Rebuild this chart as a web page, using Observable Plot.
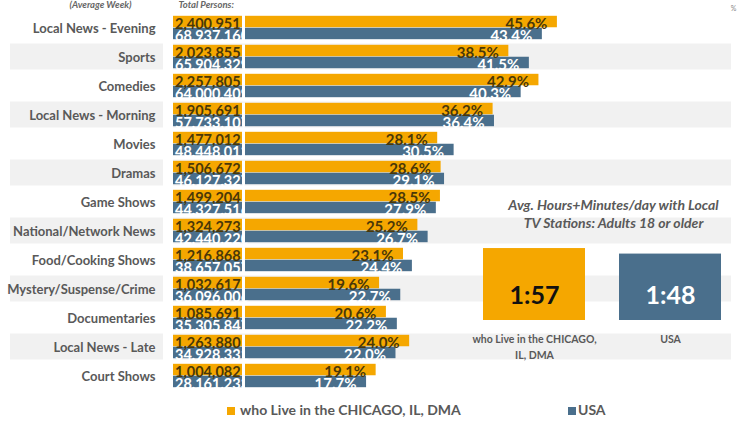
<!DOCTYPE html>
<html>
<head>
<meta charset="utf-8">
<script src="https://cdn.jsdelivr.net/npm/d3@7"></script>
<script src="https://cdn.jsdelivr.net/npm/@observablehq/plot@0.6"></script>
<style>
  html, body { margin: 0; padding: 0; background: #fff; }
  #wrap { position: relative; width: 738px; height: 423px; overflow: hidden; font-family: Lato, "Noto Sans", sans-serif; }
  #main { position: absolute; left: 0; top: 0; }
  #panel { position: absolute; left: 466px; top: 180px; }
  #legend { position: absolute; left: 0; top: 400px; width: 738px; height: 23px; }
  .sw { position: absolute; width: 8px; height: 8px; top: 7px; }
  .lt { position: absolute; top: 1px; font-size: 14px; font-weight: bold; color: #595959; white-space: nowrap; }
</style>
</head>
<body>
<div id="wrap">
  <div id="main"></div>
  <div id="panel"></div>
  <div id="legend"></div>
</div>
<script>
// ---------- data ----------
const categories = [
  "Local News - Evening", "Sports", "Comedies", "Local News - Morning", "Movies",
  "Dramas", "Game Shows", "National/Network News", "Food/Cooking Shows",
  "Mystery/Suspense/Crime", "Documentaries", "Local News - Late", "Court Shows"
];
const seriesNames = ["who Live in the CHICAGO, IL, DMA", "USA"];
const chicagoPct = [45.6, 38.5, 42.9, 36.2, 28.1, 28.6, 28.5, 25.2, 23.1, 19.6, 20.6, 24.0, 19.1];
const usaPct     = [43.4, 41.5, 40.3, 36.4, 30.5, 29.1, 27.9, 26.7, 24.4, 22.7, 22.2, 22.0, 17.7];
const chicagoCount = [2400951, 2023855, 2257805, 1905691, 1477012, 1506672, 1499204, 1324273, 1216868, 1032617, 1085691, 1263880, 1004082];
const usaCount     = [68937160, 65904329, 64000409, 57733107, 48448012, 46127327, 44327516, 42440220, 38657057, 36096006, 35305847, 34928331, 28161233];
const panelTitle = "Avg. Hours+Minutes/day with Local\nTV Stations: Adults 18 or older";
const panelLabels = ["who Live in the CHICAGO,\nIL, DMA", "USA"];
const panelMinutes = [117, 108];
const panelTimes = ["1:57", "1:48"];
const headerLeft = "(Average Week)";
const headerCount = "Total Persons:";

// ---------- style ----------
const ORANGE = "#F5A700";
const BLUE = "#4A6F8C";
const DARKTXT = "#4a3808";
const GREY = "#595959";
const STRIPE = "#f1f1f1";
const FONT = "Lato, 'Noto Sans', sans-serif";

const W = 738, H = 400;
const PX = 6.84;      // pixels per percentage point
const ORIGIN = 245;   // pixel where 0% sits
const u = p => (p - ORIGIN) / PX; // pixel -> x units (layout helper)

const rows = categories.map((cat, i) => ({
  cat, i, chiPct: chicagoPct[i], usaPct: usaPct[i],
  chiCount: chicagoCount[i], usaCount: usaCount[i]
}));
const striped = rows.filter(d => d.i % 2 === 1);
const fmt = d3.format(",");
const fmtPct = d3.format(".1f");
const half = (392.75 - 9.45) / categories.length / 2;
const edge = 2.8;

const main = Plot.plot({
  width: W, height: H,
  marginTop: 9.45, marginBottom: H - 392.75, marginLeft: 0, marginRight: 0,
  style: {fontFamily: FONT, background: "#fff"},
  x: {domain: [u(0), u(W)], axis: null},
  y: {domain: categories, padding: 0, axis: null},
  marks: [
    // row stripes
    Plot.barX(striped, {x1: u(10), x2: u(163), y: "cat", fill: STRIPE, insetTop: 1.5, insetBottom: 1.5}),
    Plot.barX(striped, {x1: u(173), x2: u(731), y: "cat", fill: STRIPE, insetTop: 1.5, insetBottom: 1.5}),
    // category labels
    Plot.text(rows, {x: u(155), y: "cat", text: "cat", textAnchor: "end", fontSize: 13, fontWeight: "bold", fill: GREY, dy: 1}),
    // count column
    Plot.barX(rows, {x1: u(173), x2: u(242), y: "cat", fill: ORANGE, insetTop: edge, insetBottom: half}),
    Plot.barX(rows, {x1: u(173), x2: u(242), y: "cat", fill: BLUE, insetTop: half, insetBottom: edge}),
    Plot.text(rows, {x: u(174.5), y: "cat", text: d => fmt(d.chiCount), textAnchor: "start", lineAnchor: "bottom", dy: 0.8, fontSize: 14.5, fontWeight: "bold", fill: DARKTXT}),
    Plot.text(rows, {x: u(174.5), y: "cat", text: d => fmt(d.usaCount), textAnchor: "start", lineAnchor: "bottom", dy: 12.6, fontSize: 14.5, fontWeight: "bold", fill: "#fff"}),
    // gap between count column and bars
    Plot.barX(rows, {x1: u(242), x2: 0, y: "cat", fill: "#fff", insetTop: edge, insetBottom: edge}),
    // percentage bars
    Plot.barX(rows, {x1: 0, x2: "chiPct", y: "cat", fill: ORANGE, insetTop: edge, insetBottom: half}),
    Plot.barX(rows, {x1: 0, x2: "usaPct", y: "cat", fill: BLUE, insetTop: half, insetBottom: edge}),
    Plot.text(rows, {x: "chiPct", y: "cat", text: d => fmtPct(d.chiPct) + "%", textAnchor: "end", lineAnchor: "bottom", dx: -10, dy: 0.8, fontSize: 15, fontWeight: "bold", fill: DARKTXT}),
    Plot.text(rows, {x: "usaPct", y: "cat", text: d => fmtPct(d.usaPct) + "%", textAnchor: "end", lineAnchor: "bottom", dx: -10, dy: 12.6, fontSize: 15, fontWeight: "bold", fill: "#fff"}),
    // header texts
    Plot.text([headerLeft], {x: u(100), frameAnchor: "top", lineAnchor: "bottom", dy: -1.5, text: d => d, fontSize: 9.5, fontStyle: "italic", fontWeight: "bold", fill: "#666"}),
    Plot.text([headerCount], {x: u(178), frameAnchor: "top", lineAnchor: "bottom", dy: -1.5, text: d => d, textAnchor: "start", fontSize: 9.5, fontStyle: "italic", fontWeight: "bold", fill: "#666"}),
    Plot.text(["%"], {x: u(733), frameAnchor: "top", lineAnchor: "bottom", dy: 1.5, text: d => d, fontSize: 7, fill: "#888"})
  ]
});
document.getElementById("main").appendChild(main);

// ---------- inset panel ----------
const panelRows = seriesNames.map((s, i) => ({s, label: panelLabels[i], min: panelMinutes[i], t: panelTimes[i], i}));
const PH = 185;
const panel = Plot.plot({
  width: 272, height: PH,
  marginTop: 0, marginBottom: 0, marginLeft: 0, marginRight: 0,
  style: {fontFamily: FONT, background: "transparent", overflow: "visible"},
  x: {domain: seriesNames, paddingInner: 0.25, paddingOuter: 0.125, axis: null},
  y: {domain: [0, 130], range: [140, 140 - 130 * 0.615], axis: null},
  marks: [
    Plot.barY(panelRows, {x: "s", y: "min", fill: d => d.i === 0 ? ORANGE : BLUE}),
    Plot.text(panelRows, {x: "s", y: 0, text: "t", lineAnchor: "bottom", dy: -17, fontSize: 25, fontWeight: "bold", fill: d => d.i === 0 ? "#111" : "#fff"}),
    Plot.text(panelRows, {x: "s", y: 0, text: "label", lineAnchor: "top", dy: 10.5, fontSize: 10.5, lineHeight: 1.55, fontWeight: "bold", fill: GREY}),
    Plot.text([panelTitle], {frameAnchor: "top", text: d => d, lineAnchor: "top", dx: 11, dy: 17, fontSize: 14, fontStyle: "italic", fontWeight: "bold", lineHeight: 1.29, fill: GREY})
  ]
});
document.getElementById("panel").appendChild(panel);

// ---------- legend ----------
const legend = document.getElementById("legend");
const legendPos = [{sw: 227, tx: 240}, {sw: 568, tx: 578}];
[ORANGE, BLUE].forEach((c, i) => {
  const s = document.createElement("div");
  s.className = "sw"; s.style.left = legendPos[i].sw + "px"; s.style.background = c;
  legend.appendChild(s);
  const t = document.createElement("div");
  t.className = "lt"; t.style.left = legendPos[i].tx + "px"; t.textContent = seriesNames[i];
  legend.appendChild(t);
});
</script>
</body>
</html>
